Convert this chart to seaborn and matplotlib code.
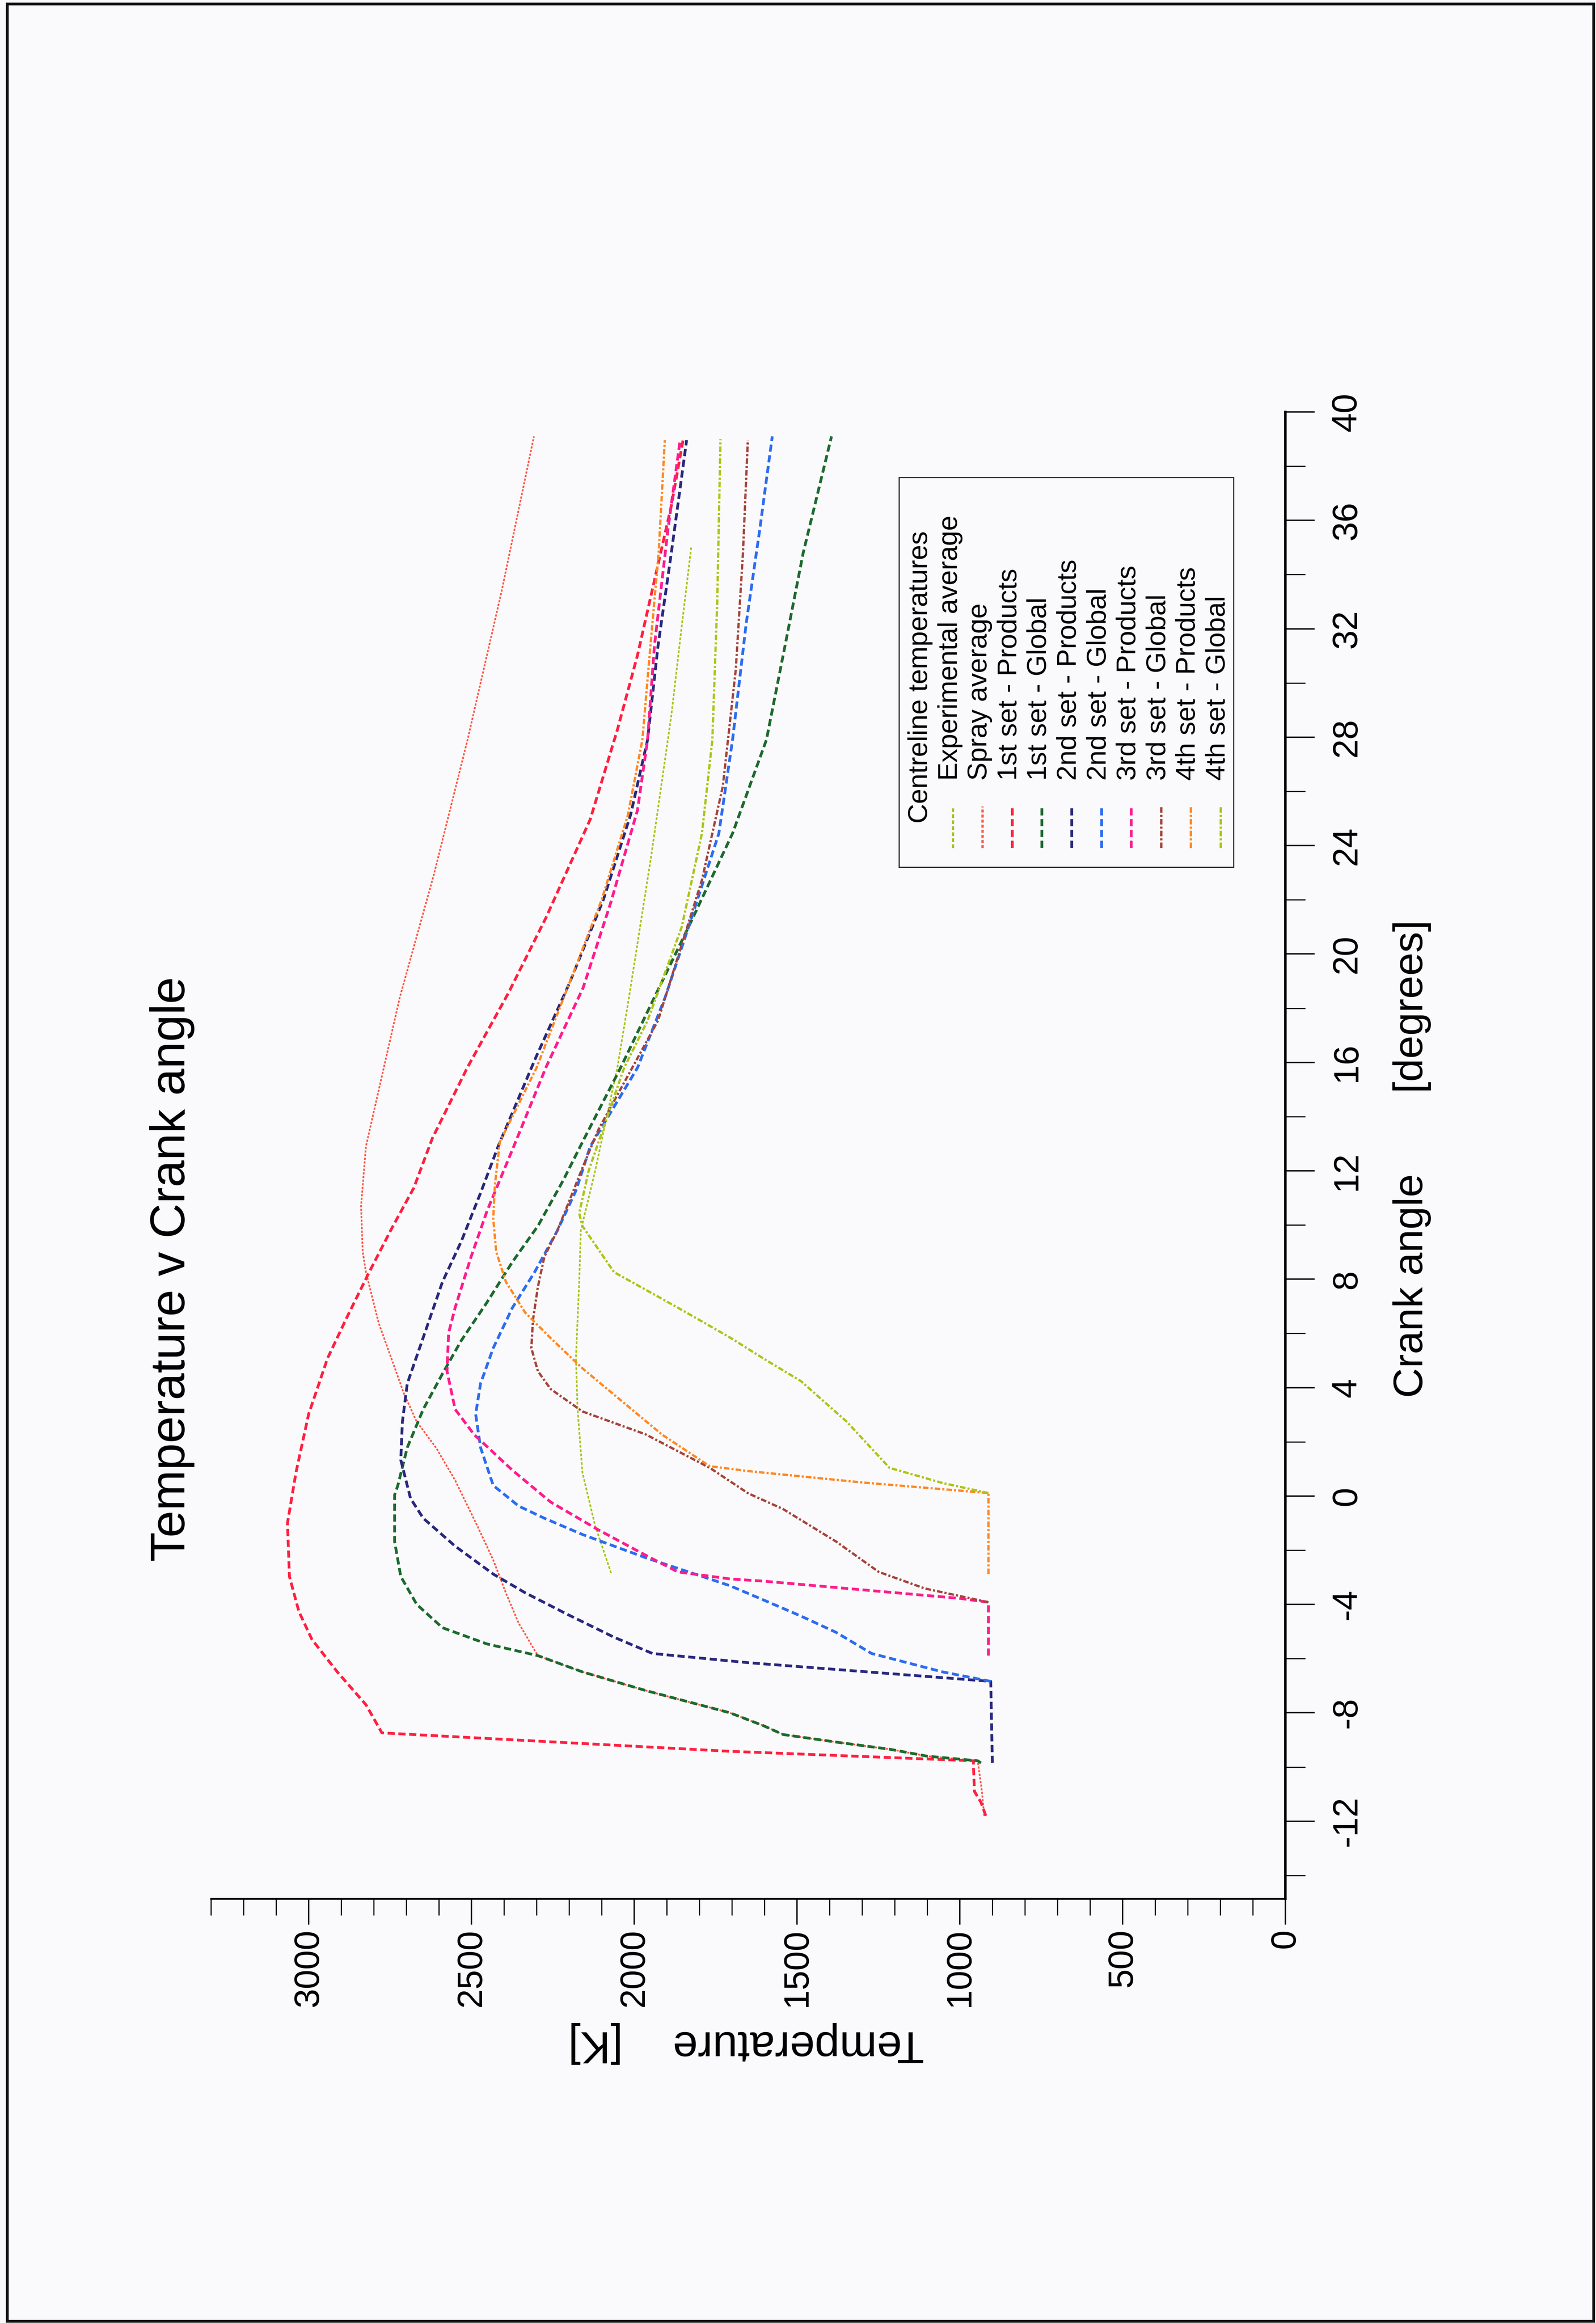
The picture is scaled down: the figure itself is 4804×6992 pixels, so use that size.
import numpy as np
import pandas as pd
import matplotlib
matplotlib.use('Agg')
import matplotlib.pyplot as plt
import seaborn as sns
from matplotlib.patches import Rectangle
from matplotlib.lines import Line2D

# ---------------- data (crank angle [deg], temperature [K]) ----------------
exp_avg_angle = [-2.84, -1.1, 0.86, 3.2, 5.08, 7.9, 9.8, 12.0, 15.8, 18.4, 23.6, 28.8, 32.0, 35.0]
exp_avg_temp = [2071, 2120, 2159, 2174, 2179, 2169, 2164, 2120, 2052, 2016, 1948, 1886, 1855, 1825]

spray_angle = [-11.8, -10.9, -9.77, -9.6, -9.34, -9.08, -8.8, -8.47, -8.0, -7.18, -6.49, -5.89,
               -4.69, -3.58, -2.36, -1.2, 0.58, 1.79, 2.74, 3.77, 5.08, 6.39, 8.26, 9.02,
               10.7, 12.9, 18.4, 22.9, 27.9, 33.4, 39.1]
spray_temp = [925, 932, 945, 1100, 1217, 1380, 1543, 1604, 1706, 1964, 2159, 2296,
              2355, 2394, 2433, 2478, 2550, 2609, 2668, 2707, 2746, 2785, 2824, 2834,
              2839, 2824, 2720, 2616, 2512, 2407, 2308]

set1_prod_angle = [-11.8, -11.3, -10.9, -10.0, -9.77, -9.42, -8.74, -7.70, -6.49, -5.29, -4.26,
                   -2.97, -1.0, 0.86, 3.02, 5.08, 6.58, 8.26, 9.87, 11.37, 13.2, 15.82, 18.57,
                   21.34, 24.97, 28.26, 31.02, 33.78, 36.54, 38.96]
set1_prod_temp = [920, 935, 955, 958, 958, 1706, 2775, 2824, 2912, 2990, 3030,
                  3059, 3065, 3039, 3000, 2942, 2883, 2814, 2745, 2677, 2620, 2512, 2386,
                  2271, 2135, 2052, 1990, 1938, 1886, 1850]

set1_glob_angle = [-9.85, -9.77, -9.6, -9.34, -9.08, -8.8, -8.47, -8.0, -7.18, -6.49, -5.89,
                   -5.46, -4.86, -4.0, -2.97, -1.68, 0.04, 0.39, 1.79, 3.2, 4.51, 5.74, 7.15,
                   8.64, 9.96, 11.65, 13.06, 15.8, 18.4, 21.0, 24.45, 27.9, 31.36, 34.8, 39.1]
set1_glob_temp = [935, 945, 1100, 1217, 1380, 1543, 1604, 1706, 1964, 2159, 2296,
                  2452, 2589, 2668, 2717, 2736, 2736, 2726, 2697, 2648, 2589, 2531, 2452,
                  2374, 2296, 2218, 2159, 2042, 1938, 1833, 1698, 1594, 1537, 1481, 1394]

set2_prod_angle = [-9.85, -6.84, -6.15, -5.81, -5.21, -4.35, -3.57, -2.88, -1.85, -0.82, -0.09,
                   1.33, 2.74, 4.15, 5.85, 7.9, 9.4, 11.18, 12.9, 16.16, 18.92, 22.03, 25.14,
                   27.9, 31.36, 34.8, 38.96]
set2_prod_temp = [900, 905, 1650, 1944, 2062, 2208, 2335, 2433, 2550, 2648, 2687,
                  2717, 2712, 2697, 2648, 2589, 2531, 2472, 2418, 2303, 2199, 2094, 2011,
                  1959, 1927, 1886, 1839]

set2_glob_angle = [-6.84, -6.49, -5.81, -5.03, -4.43, -3.83, -3.31, -3.06, -2.28, -1.42, -0.82,
                   -0.37, 0.39, 1.79, 3.02, 4.15, 5.46, 6.95, 8.26, 9.77, 11.27, 12.9, 15.8,
                   18.4, 21.0, 24.45, 27.9, 32.2, 35.7, 39.1]
set2_glob_temp = [905, 1053, 1271, 1380, 1488, 1604, 1706, 1768, 1964, 2159, 2276,
                  2355, 2433, 2472, 2487, 2472, 2433, 2374, 2306, 2237, 2179, 2135, 1990,
                  1905, 1833, 1740, 1698, 1656, 1614, 1576]

set3_prod_angle = [-5.89, -3.92, -3.78, -3.14, -3.06, -2.80, -2.19, -1.25, -0.22, 0.95, 2.27,
                   3.2, 4.61, 6.02, 6.95, 8.83, 10.52, 12.9, 15.82, 18.75, 21.86, 25.3, 27.9,
                   31.36, 35.7, 38.96]
set3_prod_temp = [912, 912, 998, 1604, 1706, 1866, 1964, 2110, 2257, 2374, 2492,
                  2550, 2575, 2570, 2550, 2501, 2452, 2370, 2271, 2157, 2073, 1990, 1959,
                  1938, 1896, 1859]

set3_glob_angle = [-3.92, -3.41, -2.80, -1.68, -0.48, 0.1, 1.04, 2.27, 3.12, 3.95, 4.61, 5.46,
                   6.49, 7.71, 8.83, 9.77, 10.9, 12.11, 13.52, 17.54, 22.73, 26.18, 30.5,
                   34.8, 38.96]
set3_glob_temp = [912, 1108, 1249, 1380, 1543, 1650, 1768, 1964, 2159, 2257, 2296, 2316,
                  2311, 2296, 2276, 2237, 2199, 2159, 2110, 1927, 1792, 1728, 1688,
                  1666, 1651]

set4_prod_angle = [-2.88, 0.11, 0.5, 0.92, 1.10, 2.27, 4.71, 5.83, 6.77, 7.90, 9.02, 10.24,
                   11.46, 13.06, 15.8, 18.9, 22.0, 25.1, 27.9, 31.4, 34.8, 38.96]
set4_prod_temp = [912, 912, 1300, 1650, 1768, 1915, 2159, 2257, 2335, 2394, 2424, 2433,
                  2428, 2413, 2300, 2200, 2100, 2020, 1975, 1950, 1925, 1906]

set4_glob_angle = [0.11, 0.48, 1.04, 2.74, 4.24, 5.08, 5.85, 6.95, 8.26, 9.96, 10.43, 12.0,
                   15.8, 17.54, 21.0, 24.45, 27.9, 33.0, 39.0]
set4_glob_temp = [912, 1053, 1216, 1347, 1488, 1604, 1706, 1866, 2062, 2159, 2169, 2140,
                  2031, 1959, 1854, 1792, 1760, 1745, 1735]

legend_title = "Centreline temperatures"
series_labels = ["Experimental average", "Spray average",
                 "1st set - Products", "1st set - Global",
                 "2nd set - Products", "2nd set - Global",
                 "3rd set - Products", "3rd set - Global",
                 "4th set - Products", "4th set - Global"]
series_angles = [exp_avg_angle, spray_angle, set1_prod_angle, set1_glob_angle,
                 set2_prod_angle, set2_glob_angle, set3_prod_angle, set3_glob_angle,
                 set4_prod_angle, set4_glob_angle]
series_temps = [exp_avg_temp, spray_temp, set1_prod_temp, set1_glob_temp,
                set2_prod_temp, set2_glob_temp, set3_prod_temp, set3_glob_temp,
                set4_prod_temp, set4_glob_temp]

temp_ticks = [0, 500, 1000, 1500, 2000, 2500, 3000]
temp_minor = list(range(0, 3301, 100))
angle_ticks = list(range(-12, 41, 4))
angle_minor = list(range(-14, 41, 2))

# ---------------- styles ----------------
colors = ['#a6c41a', '#ff5544', '#ff2040', '#1d6a2e', '#29287e',
          '#2d6cf0', '#ff1c8c', '#a5443a', '#ff8824', '#aec41a']
widths = [3.6, 3.6, 6.0, 6.0, 6.0, 6.0, 6.0, 5.0, 5.0, 5.0]
styles = [(0, (1.6, 1.0)), (0, (1.3, 0.9)),
          (0, (2.6, 1.3)), (0, (2.6, 1.3)), (0, (2.6, 1.3)), (0, (2.6, 1.3)), (0, (2.6, 1.3)),
          (0, (2.4, 0.9, 0.9, 0.9)), (0, (2.4, 0.9, 0.9, 0.9)), (0, (2.4, 0.9, 0.9, 0.9))]

W, H = 4804, 6992
DPI = 100

sns.set_theme(style='white')
plt.rcParams['font.family'] = ['Liberation Sans', 'DejaVu Sans']
plt.rcParams['text.color'] = 'black'
plt.rcParams['xtick.color'] = 'black'
plt.rcParams['ytick.color'] = 'black'

fig = plt.figure(figsize=(W / DPI, H / DPI), dpi=DPI, facecolor='#fafafc')


def fx(px):
    return px / W


def fy(py):
    return 1 - py / H


ax = fig.add_axes([fx(635), fy(5715), fx(3869) - fx(635), fy(1240) - fy(5715)])
ax.set_facecolor('none')

for ang, tmp, c, lw, ls in zip(series_angles, series_temps, colors, widths, styles):
    df = pd.DataFrame({'T': tmp, 'angle': ang})
    sns.lineplot(data=df, x='T', y='angle', sort=False, estimator=None, ax=ax,
                 color=c, lw=lw, linestyle=ls)

ax.set_xlim(3300, 0)
ax.set_ylim(-14.86, 40)
ax.set_xlabel('')
ax.set_ylabel('')

for s in ['top', 'left']:
    ax.spines[s].set_visible(False)
ax.spines['bottom'].set_linewidth(3.8)
ax.spines['right'].set_linewidth(5.5)
ax.spines['bottom'].set_color('black')
ax.spines['right'].set_color('black')

ax.yaxis.tick_right()
ax.set_xticks(temp_ticks)
ax.set_xticks(temp_minor, minor=True)
ax.set_xticklabels([str(t) for t in temp_ticks])
ax.set_yticks(angle_ticks)
ax.set_yticks(angle_minor, minor=True)
ax.set_yticklabels([str(a) for a in angle_ticks])

ax.tick_params(axis='x', which='major', direction='out', length=56, width=3,
               labelsize=76, pad=9, labelrotation=90, bottom=True)
ax.tick_params(axis='x', which='minor', direction='out', length=36, width=2.5, bottom=True)
ax.tick_params(axis='y', which='major', direction='out', length=63, width=3,
               labelsize=76, pad=35, labelrotation=90, right=True, left=False)
ax.tick_params(axis='y', which='minor', direction='out', length=43, width=2.5,
               right=True, left=False)
for lbl in ax.get_yticklabels():
    lbl.set_va('center')
    lbl.set_ha('left')
for lbl in ax.get_xticklabels():
    lbl.set_va('top')
    lbl.set_ha('center')

# titles / axis labels
fig.text(fx(518), fy(3820), 'Temperature v Crank angle', rotation=90, fontsize=105,
         ha='center', va='center')
fig.text(fx(2246), fy(6150), 'Temperature    [K]', rotation=180, fontsize=97,
         ha='center', va='center')
fig.text(fx(4250), fy(3488), 'Crank angle       [degrees]', rotation=90, fontsize=90,
         ha='center', va='center')

# legend (rotated, drawn manually)
fig.add_artist(Rectangle((fx(2706), fy(2610)), fx(3713) - fx(2706), fy(1437) - fy(2610),
                         transform=fig.transFigure, fill=False, lw=2.4, ec='#222222'))
row0 = 2770
step = 89.6
fig.text(fx(row0), fy(2478), legend_title, rotation=90, ha='center', va='bottom', fontsize=59)
for i, (lab, c, lw, ls) in enumerate(zip(series_labels, colors, widths, styles)):
    xc = row0 + (i + 1) * step
    fig.text(fx(xc), fy(2349), lab, rotation=90, ha='center', va='bottom', fontsize=59)
    fig.add_artist(Line2D([fx(xc + 8), fx(xc + 8)], [fy(2552), fy(2427)],
                          transform=fig.transFigure, color=c, lw=max(lw, 5.0), linestyle=ls))

# page frame
fig.add_artist(Rectangle((fx(22), fy(6987)), fx(4797) - fx(22), fy(12) - fy(6987),
                         transform=fig.transFigure, fill=False, lw=6, ec='#111111'))

fig.savefig('out.png', dpi=DPI, facecolor=fig.get_facecolor())
